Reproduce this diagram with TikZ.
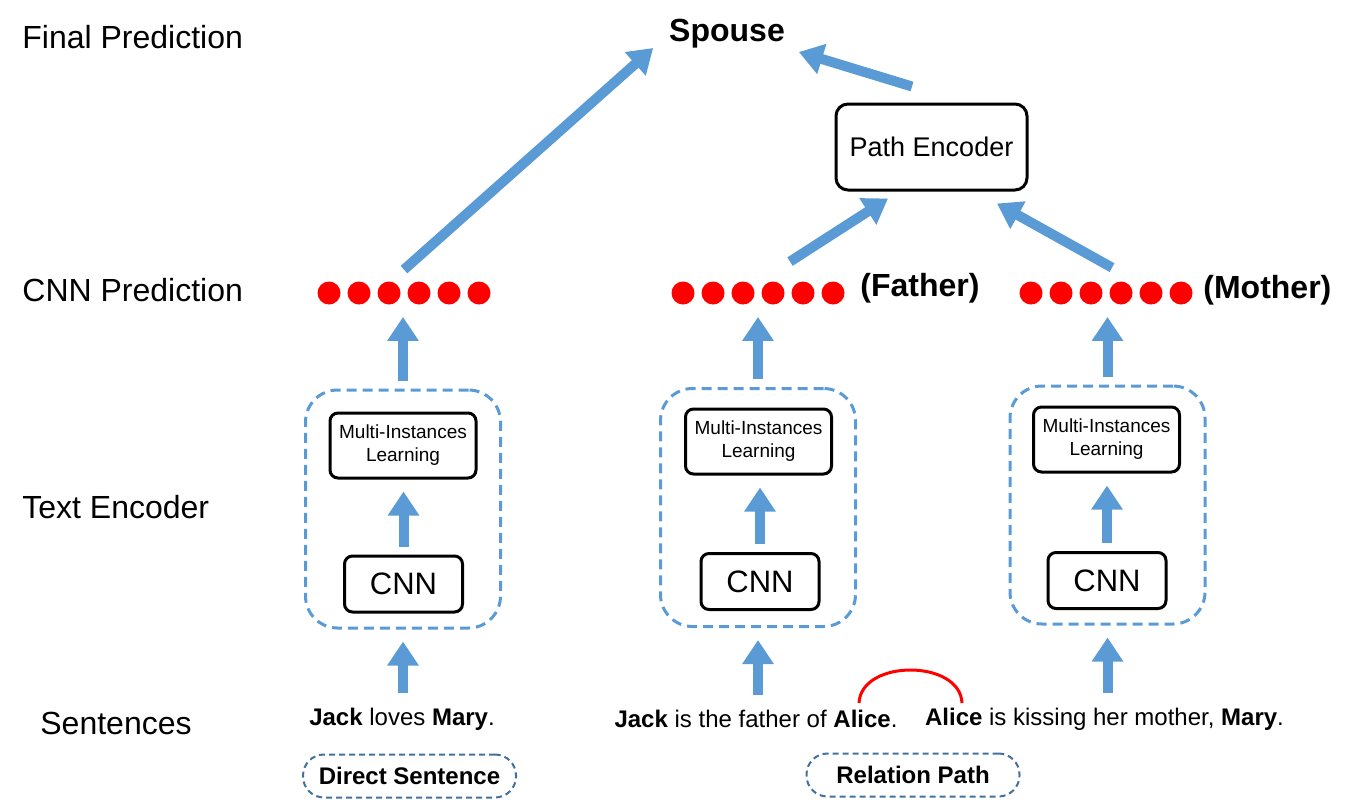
\documentclass[tikz,border=0pt]{standalone}
\usepackage{fontspec}
\setmainfont{Liberation Sans}
\usepackage{tikz}
\usetikzlibrary{arrows.meta,calc}
\definecolor{arrowblue}{RGB}{91,155,213}
\definecolor{tagblue}{RGB}{65,113,156}
\tikzset{
rowlabel/.style={
anchor=west,
inner sep=0pt,
font=\fontsize{16}{19}\selectfont
},
encbox/.style={
draw,
line width=1.5pt,
rounded corners=6pt,
minimum width=95.5pt,
minimum height=43pt,
font=\fontsize{13.5}{16}\selectfont
},
milbox/.style={
draw,
line width=1.5pt,
rounded corners=4pt,
minimum width=73pt,
minimum height=32.5pt,
align=center,
font=\fontsize{9.5}{11.5}\selectfont
},
cnnbox/.style={
draw,
line width=1.5pt,
rounded corners=4pt,
minimum width=59pt,
minimum height=28pt,
font=\fontsize{15.5}{18}\selectfont
},
group/.style={
draw=arrowblue,
line width=1.5pt,
dash pattern=on 5pt off 3pt,
rounded corners=16pt,
minimum width=97.5pt,
minimum height=119pt
},
tag/.style={
draw=tagblue,
line width=1pt,
dash pattern=on 3pt off 2pt,
rounded corners=10.5pt,
minimum width=106.5pt,
minimum height=21.5pt,
font=\fontsize{12}{14}\selectfont\bfseries
},
sentence/.style={
font=\fontsize{12}{14}\selectfont
},
dotrow/.style={
minimum width=86.5pt,
minimum height=11.5pt,
inner sep=0pt
},
dot/.style={
circle,
fill=red,
minimum size=11.5pt,
inner sep=0pt
},
arrow/.style={
draw=arrowblue,
line width=5pt,
-{Triangle[width=15pt,length=12pt]},
shorten <=4pt,
shorten >=6pt
},
bigarrow/.style={
draw=arrowblue,
line width=5pt,
-{Triangle[width=15pt,length=12pt]}
}
}

\begin{document}
\begin{tikzpicture}[x=0.5pt,y=-0.5pt]
\useasboundingbox (0,0) rectangle (1355,804);

% row labels
\node[rowlabel](lfin) at (22,37){Final Prediction};
\node[rowlabel](lcnn) at (22,290){CNN Prediction};
\node[rowlabel](ltxt) at (22,507){Text Encoder};
\node[rowlabel](lsen) at (40,723){Sentences};

% top
\node[font=\fontsize{16}{19}\selectfont\bfseries](spouse) at (727,34){Spouse};
\node[encbox](pe) at (931.5,147){Path Encoder};

% cnn predictions
\node[dotrow](p1) at (404,293){};
\node[dotrow](p2) at (758,293){};
\node[dotrow](p3) at (1106,293){};
\foreach \n in {1,2,3}
\foreach \i in {-75,-45,...,75}
\node[dot] at ($(p\n)+(\i,0)$){};
\node[rowlabel,font=\fontsize{16}{19}\selectfont\bfseries](fa) at (860,288){(Father)};
\node[rowlabel,font=\fontsize{16}{19}\selectfont\bfseries](mo) at (1203,290){(Mother)};

% text encoders
\node[group](g1) at (403,509){};
\node[group](g2) at (758,507.5){};
\node[group](g3) at (1107.5,505){};
\node[milbox](m1) at (403,445.5){Multi-Instances\\Learning};
\node[milbox](m2) at (758.5,441.5){Multi-Instances\\Learning};
\node[milbox](m3) at (1106.5,439.5){Multi-Instances\\Learning};
\node[cnnbox](c1) at (403.5,584){CNN};
\node[cnnbox](c2) at (760,581.5){CNN};
\node[cnnbox](c3) at (1107,580.5){CNN};

% sentences
\node[sentence](s1) at (402,719){\textbf{Jack} loves \textbf{Mary}.};
\node[sentence](s2) at (756,719){\textbf{Jack} is the father of \textbf{Alice}.};
\node[sentence](s3) at (1104.5,719){\textbf{Alice} is kissing her mother, \textbf{Mary}.};
\node[tag](ds) at (409.5,776){Direct Sentence};
\node[tag](rp) at (913,775){Relation Path};

% link between the two Alices
\coordinate (al1) at (859,703);
\coordinate (al2) at (962,703);
\draw[red,line width=1.5pt](al1) .. controls (861,659) and (960,659) .. (al2);

\foreach \n in {1,2,3}{
\draw[arrow](g\n.south |- s\n.north)--(g\n.south);
\draw[arrow](c\n.north)--(c\n.north |- m\n.south);
\draw[arrow](g\n.north)--(g\n.north |- p\n.south);
}

\draw[bigarrow]([yshift=5.75pt]p1.north)--([xshift=-4.5pt,yshift=-7pt]spouse.west);
\draw[bigarrow]([xshift=16pt,yshift=9.75pt]p2.north)--([xshift=-21.75pt,yshift=-3.5pt]pe.south);
\draw[bigarrow]([xshift=3pt,yshift=6.75pt]p3.north)--([xshift=32.75pt,yshift=-6pt]pe.south);
\draw[bigarrow]([xshift=-9.75pt,yshift=8pt]pe.north)--([xshift=3.5pt,yshift=-9pt]spouse.east);

\end{tikzpicture}
\end{document}
